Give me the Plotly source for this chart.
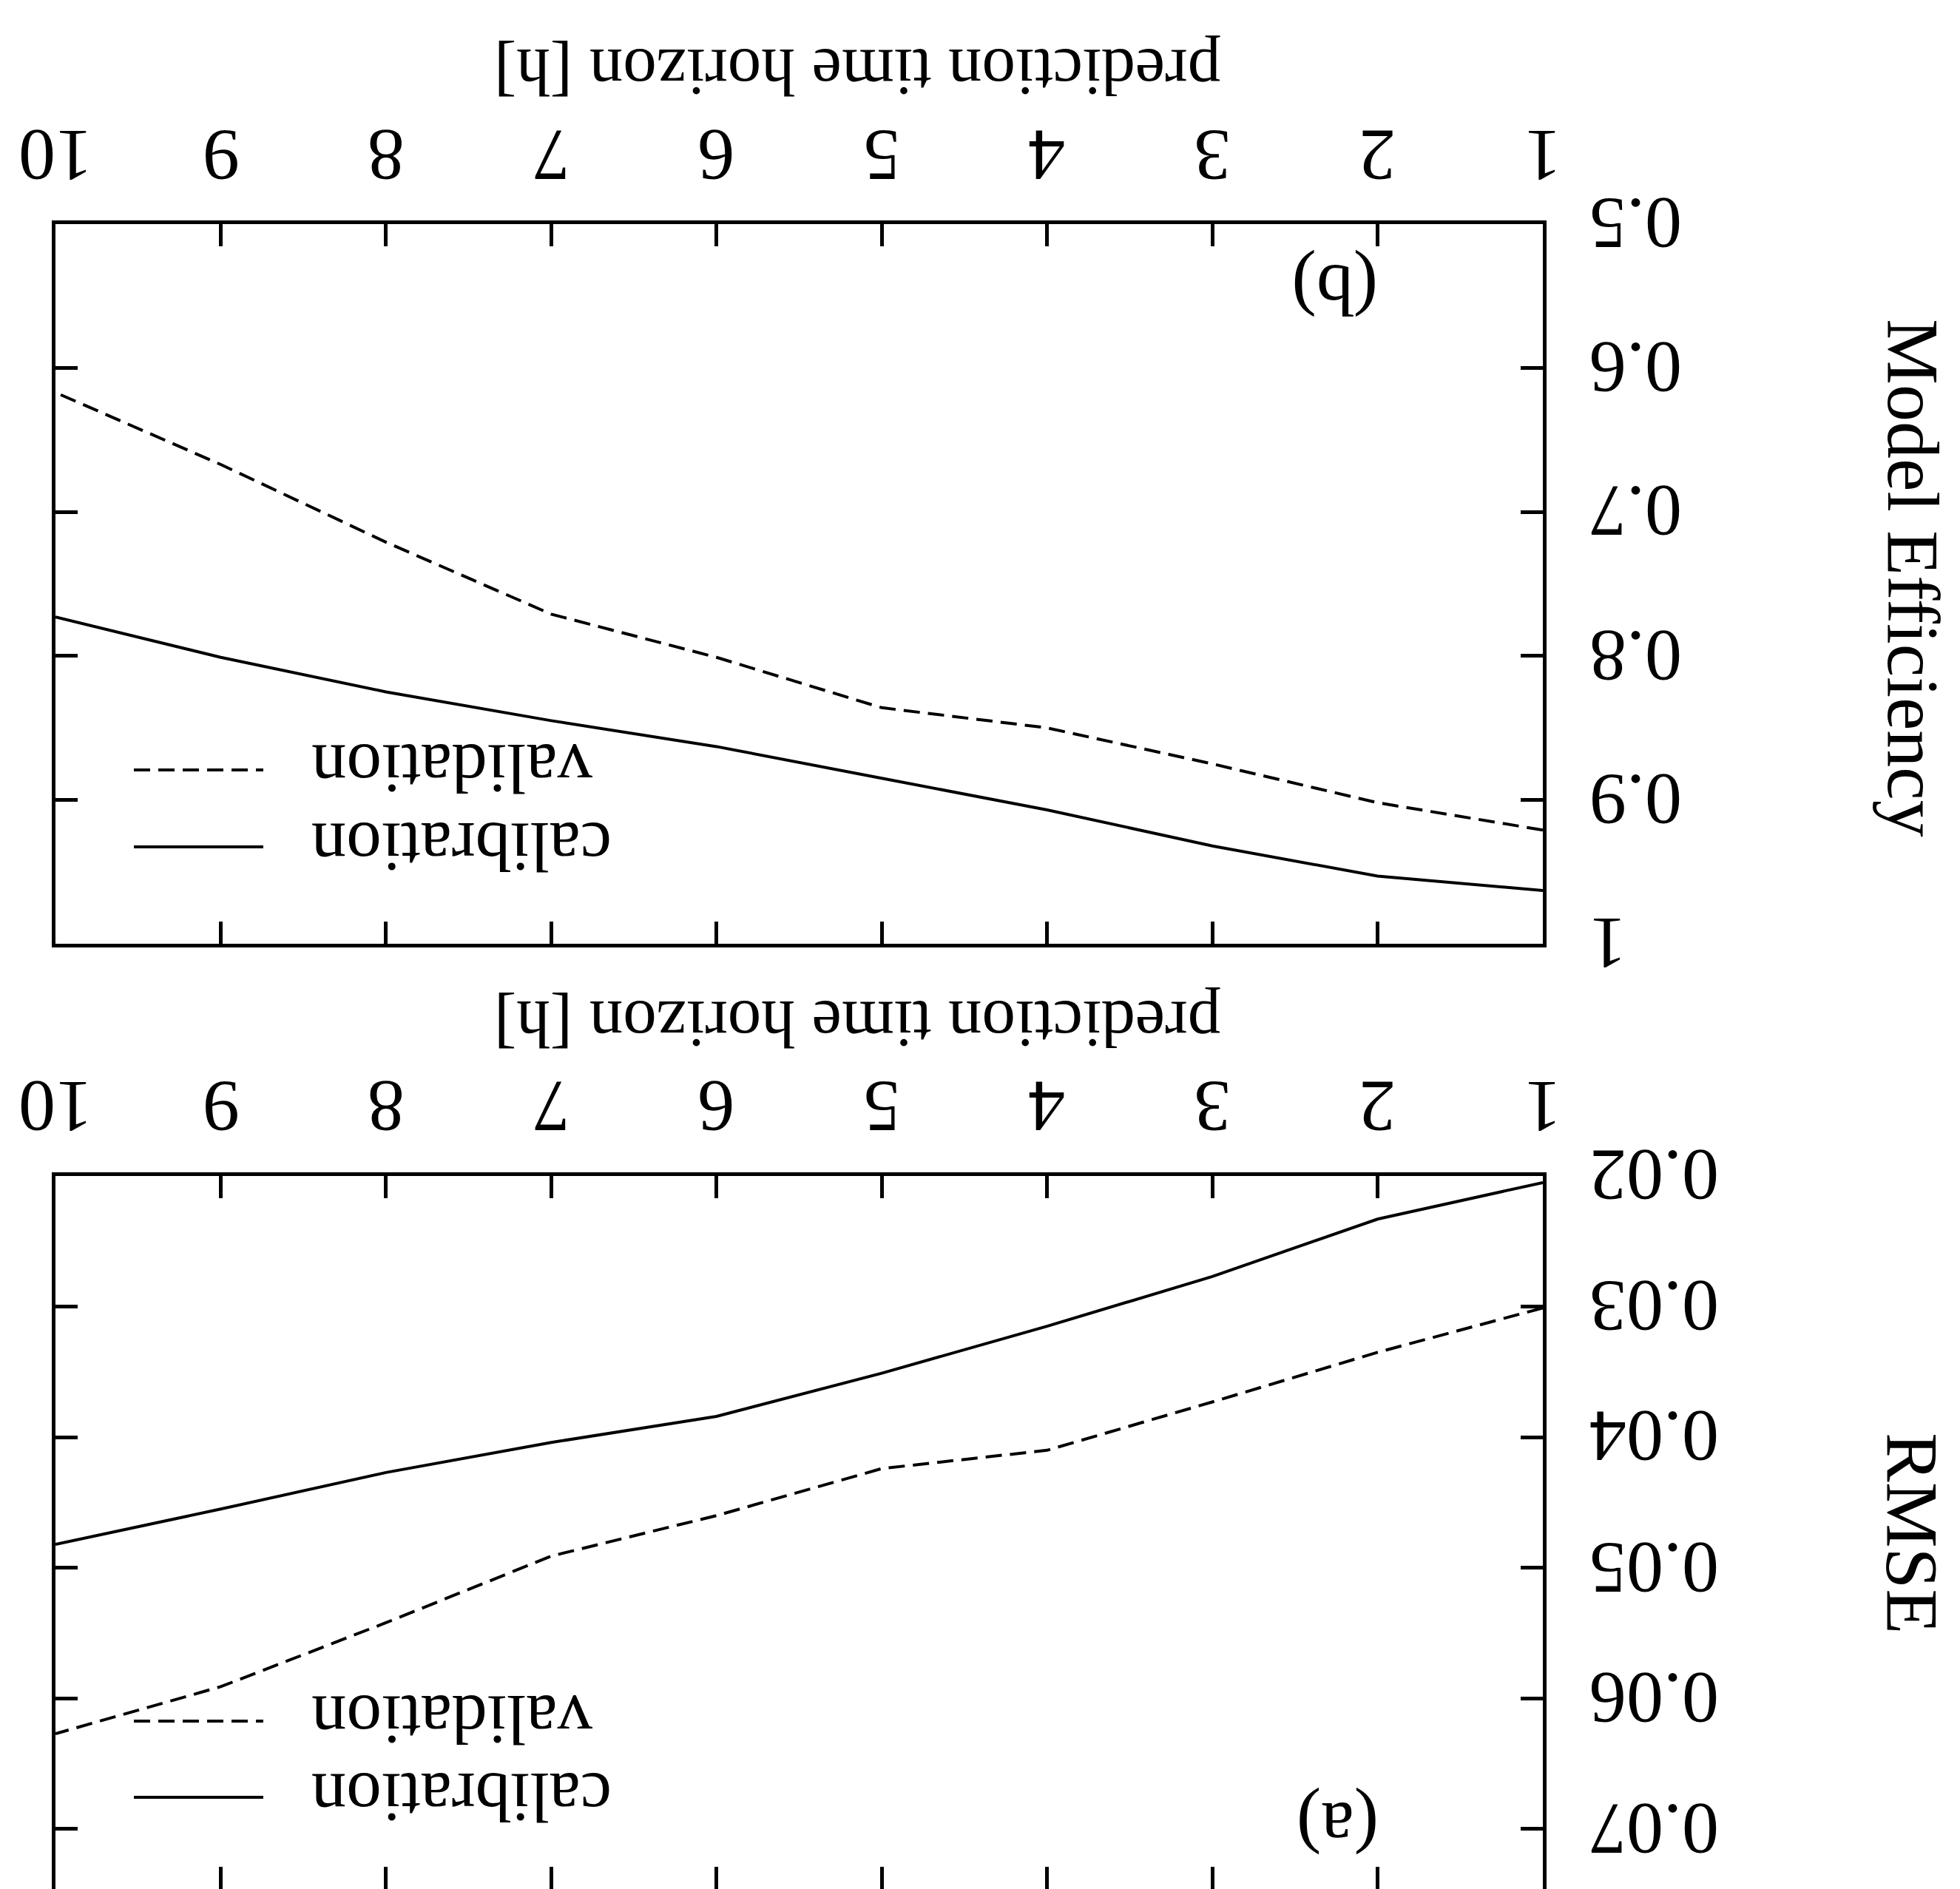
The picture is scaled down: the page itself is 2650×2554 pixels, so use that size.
import plotly.graph_objects as go

W, H = 2650, 2554

# ---- data ----
HOURS = [1, 2, 3, 4, 5, 6, 7, 8, 9, 10]
HOUR_LABELS = ["1", "2", "3", "4", "5", "6", "7", "8", "9", "10"]
ME_CALIBRATION = [0.963, 0.953, 0.932, 0.907, 0.885, 0.863, 0.845, 0.825, 0.801, 0.773]
ME_VALIDATION = [0.921, 0.902, 0.875, 0.850, 0.836, 0.801, 0.771, 0.721, 0.667, 0.617]
RMSE_CALIBRATION = [0.0205, 0.0233, 0.0277, 0.0315, 0.0351, 0.0384, 0.0404, 0.0427, 0.0455, 0.0482]
RMSE_VALIDATION = [0.0301, 0.0335, 0.0373, 0.0410, 0.0424, 0.0460, 0.0491, 0.0542, 0.0591, 0.0627]
ME_TICKS = [0.5, 0.6, 0.7, 0.8, 0.9, 1.0]
ME_TICKTEXT = ["0.5", "0.6", "0.7", "0.8", "0.9", "1"]
RMSE_TICKS = [0.02, 0.03, 0.04, 0.05, 0.06, 0.07]
RMSE_TICKTEXT = ["0.02", "0.03", "0.04", "0.05", "0.06", "0.07"]
X_TITLE = "prediction time horizon [h]"
SERIES_NAMES = ["calibration", "validation"]

FONT = "Liberation Serif"
DASH = "22px,11px"
LW = 4


def px(xp):
    return xp / W


def py(yp):
    return 1 - yp / H


fig = go.Figure()
fig.add_trace(go.Scatter(x=HOURS, y=ME_CALIBRATION, mode="lines", xaxis="x", yaxis="y",
                         line=dict(color="black", width=LW), showlegend=False))
fig.add_trace(go.Scatter(x=HOURS, y=ME_VALIDATION, mode="lines", xaxis="x", yaxis="y",
                         line=dict(color="black", width=LW, dash=DASH), showlegend=False))
fig.add_trace(go.Scatter(x=HOURS, y=RMSE_CALIBRATION, mode="lines", xaxis="x2", yaxis="y2",
                         line=dict(color="black", width=LW), showlegend=False))
fig.add_trace(go.Scatter(x=HOURS, y=RMSE_VALIDATION, mode="lines", xaxis="x2", yaxis="y2",
                         line=dict(color="black", width=LW, dash=DASH), showlegend=False))

XL, XR = 75, 2086
B_TOP, B_BOT = 303, 1276
A_TOP = 1590

common_axis = dict(ticks="inside", ticklen=30, tickwidth=4.5, tickcolor="black",
                   showline=True, linewidth=5, linecolor="black", mirror="ticks",
                   showgrid=False, zeroline=False, automargin=False, showticklabels=False)

fig.update_layout(
    width=W, height=H,
    margin=dict(l=0, r=0, t=0, b=0),
    paper_bgcolor="white", plot_bgcolor="white",
    showlegend=False,
    xaxis=dict(domain=[px(XL), px(XR)], range=[10, 1], side="top", anchor="y",
               tickvals=HOURS, **common_axis),
    yaxis=dict(domain=[py(B_BOT), py(B_TOP)], range=[1.0, 0.5], side="right", anchor="x",
               tickvals=ME_TICKS, **common_axis),
    xaxis2=dict(domain=[px(XL), px(XR)], range=[10, 1], side="top", anchor="y2",
                tickvals=HOURS, **common_axis),
    yaxis2=dict(domain=[0, py(A_TOP)], range=[0.07459, 0.02], side="right", anchor="x2",
                tickvals=RMSE_TICKS, **common_axis),
)

ann_font = dict(family=FONT, size=100, color="black")
legend_font = dict(family=FONT, size=95, color="black")
annotations = []

# tick labels (upside down), placed through the axes' scales
for xref, top in (("x", B_TOP), ("x2", A_TOP)):
    for h, lab in zip(HOURS, HOUR_LABELS):
        annotations.append(dict(text=lab, x=h, y=py(top - 93), xref=xref, yref="paper",
                                showarrow=False, textangle=180, font=ann_font,
                                xanchor="center", yanchor="middle"))
for yref, vals, texts in (("y", ME_TICKS, ME_TICKTEXT), ("y2", RMSE_TICKS, RMSE_TICKTEXT)):
    for v, lab in zip(vals, texts):
        annotations.append(dict(text=lab, x=px(2147), y=v, xref="paper", yref=yref,
                                showarrow=False, textangle=180, font=ann_font,
                                xanchor="left", yanchor="middle"))

# x-axis titles (upside down)
for yc in (98, 98 + (A_TOP - B_TOP)):
    annotations.append(dict(text=X_TITLE, x=px(1160), y=py(yc), xref="paper", yref="paper",
                            showarrow=False, textangle=180,
                            font=dict(family=FONT, size=91, color="black"),
                            xanchor="center", yanchor="middle"))
# y-axis titles
annotations.append(dict(text="Model Efficiency", x=px(2586), y=py(781), xref="paper", yref="paper",
                        showarrow=False, textangle=90, font=ann_font, xanchor="center", yanchor="middle"))
annotations.append(dict(text="RMSE", x=px(2586), y=py(2073), xref="paper", yref="paper",
                        showarrow=False, textangle=90, font=ann_font, xanchor="center", yanchor="middle"))
# panel labels
annotations.append(dict(text="(b)", x=px(1805), y=py(392), xref="paper", yref="paper",
                        showarrow=False, textangle=180, font=ann_font, xanchor="center", yanchor="middle"))
annotations.append(dict(text="(a)", x=px(1809), y=py(2472), xref="paper", yref="paper",
                        showarrow=False, textangle=180, font=ann_font, xanchor="center", yanchor="middle"))

shapes = []
# legends for both panels
for cal_y, val_y in ((1145, 1041), (2430, 2327)):
    annotations.append(dict(text=SERIES_NAMES[0], x=px(420), y=py(cal_y), xref="paper", yref="paper",
                            showarrow=False, textangle=180, font=legend_font, xanchor="left", yanchor="middle",
                            borderpad=0))
    annotations.append(dict(text=SERIES_NAMES[1], x=px(420), y=py(val_y - 2), xref="paper", yref="paper",
                            showarrow=False, textangle=180, font=legend_font, xanchor="left", yanchor="middle",
                            borderpad=0))
    shapes.append(dict(type="line", xref="paper", yref="paper", x0=px(181), x1=px(356),
                       y0=py(cal_y), y1=py(cal_y), line=dict(color="black", width=LW)))
    shapes.append(dict(type="line", xref="paper", yref="paper", x0=px(181), x1=px(356),
                       y0=py(val_y), y1=py(val_y), line=dict(color="black", width=LW, dash=DASH)))

fig.update_layout(annotations=annotations, shapes=shapes)
fig.write_html("out.html")
